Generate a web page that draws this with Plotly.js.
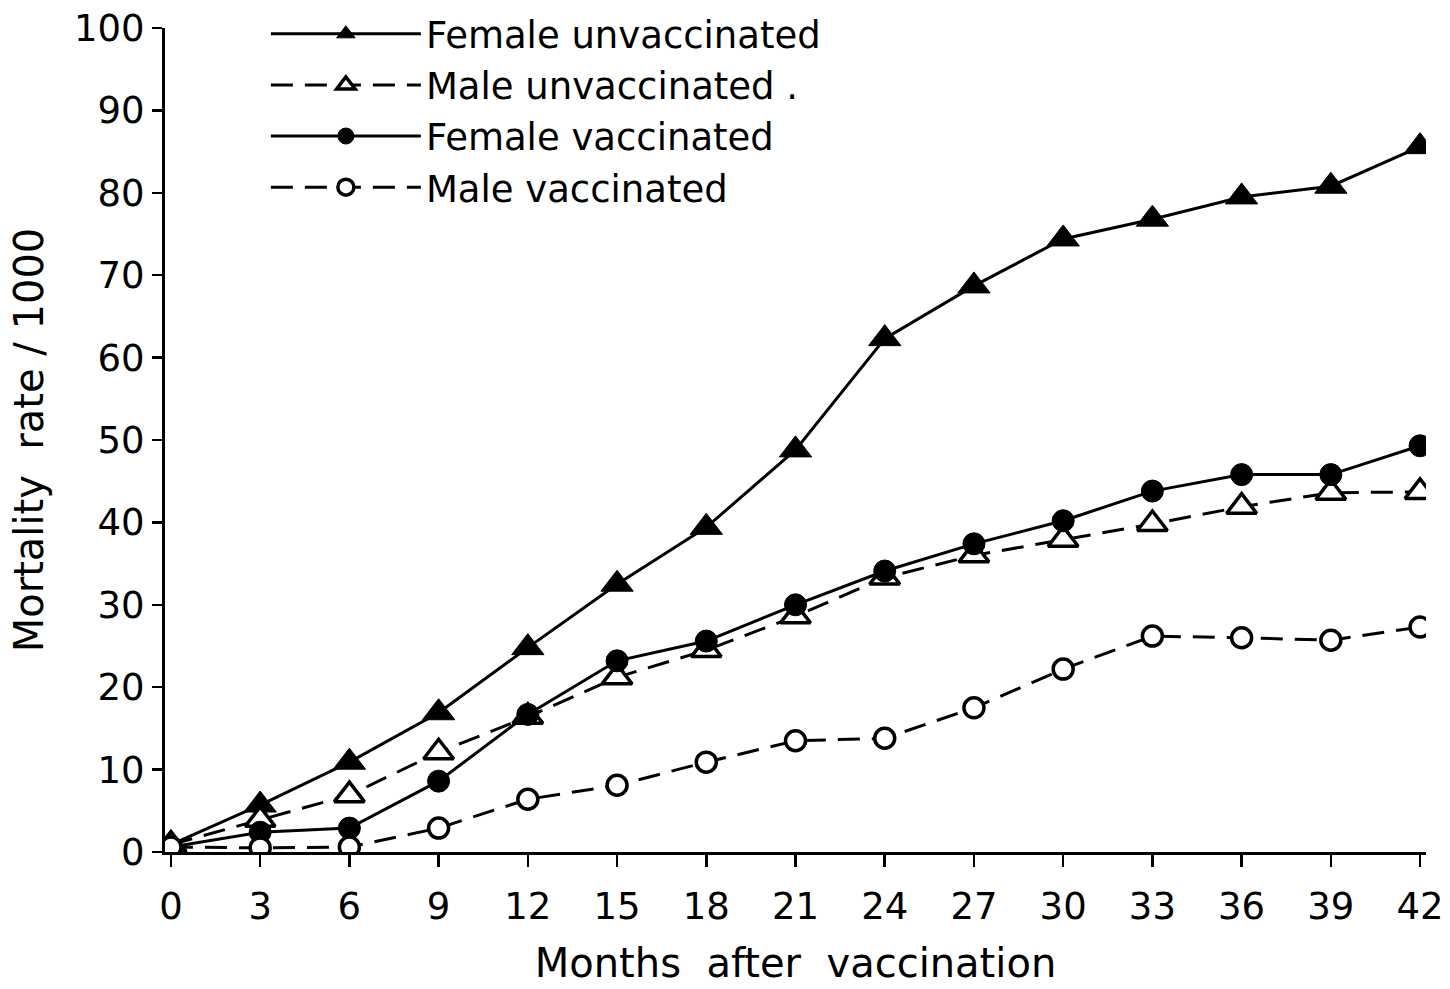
<!DOCTYPE html>
<html>
<head>
<meta charset="utf-8">
<script src="https://cdn.plot.ly/plotly-3.0.1.min.js"></script>
<style>html,body{margin:0;padding:0;background:#fff;}#chart{width:1450px;height:989px;}</style>
</head>
<body>
<div id="chart"></div>
<script>
const months = [0, 3, 6, 9, 12, 15, 18, 21, 24, 27, 30, 33, 36, 39, 42];
const tickLabels = ["0", "3", "6", "9", "12", "15", "18", "21", "24", "27", "30", "33", "36", "39", "42"];
const yTickVals = [0, 10, 20, 30, 40, 50, 60, 70, 80, 90, 100];
const yTickLabels = ["0", "10", "20", "30", "40", "50", "60", "70", "80", "90", "100"];
const femaleUnvaccinated = [0.9, 5.7, 10.9, 16.9, 24.8, 32.5, 39.4, 48.8, 62.3, 68.7, 74.4, 76.8, 79.5, 80.8, 85.6];
const maleUnvaccinated   = [0.9, 3.9, 6.9, 12.1, 16.4, 21.2, 24.5, 28.6, 33.3, 36.0, 37.9, 39.8, 41.9, 43.6, 43.7];
const femaleVaccinated   = [0.6, 2.4, 2.9, 8.6, 16.7, 23.2, 25.6, 30.0, 34.1, 37.4, 40.2, 43.8, 45.8, 45.8, 49.3];
const maleVaccinated     = [0.6, 0.5, 0.6, 2.9, 6.4, 8.1, 10.9, 13.5, 13.8, 17.5, 22.2, 26.2, 26.0, 25.7, 27.3];
const seriesNames = ["Female unvaccinated", "Male unvaccinated .", "Female vaccinated", "Male vaccinated"];

const fontFam = "DejaVu Sans, Noto Sans, sans-serif";
const traces = [
  {x: months, y: femaleUnvaccinated, name: seriesNames[0], mode: "lines+markers",
   line: {color: "#000", width: 3, dash: "solid"},
   marker: {symbol: "triangle-up", size: 28, color: "#000", line: {color: "#000", width: 1}}},
  {x: months, y: maleUnvaccinated, name: seriesNames[1], mode: "lines+markers",
   line: {color: "#000", width: 3, dash: "22px,12px"},
   marker: {symbol: "triangle-up", size: 26, color: "#fff", line: {color: "#000", width: 3.5}}},
  {x: months, y: femaleVaccinated, name: seriesNames[2], mode: "lines+markers",
   line: {color: "#000", width: 3, dash: "solid"},
   marker: {symbol: "circle", size: 22, color: "#000", line: {color: "#000", width: 1}}},
  {x: months, y: maleVaccinated, name: seriesNames[3], mode: "lines+markers",
   line: {color: "#000", width: 3, dash: "22px,12px"},
   marker: {symbol: "circle", size: 20, color: "#fff", line: {color: "#000", width: 3.5}}}
];

const layout = {
  width: 1450, height: 989,
  paper_bgcolor: "#fff", plot_bgcolor: "#fff",
  margin: {l: 165, r: 24, t: 28, b: 137, autoexpand: false},
  font: {family: fontFam, color: "#000", size: 36},
  showlegend: true,
  legend: {
    x: 0.08, y: 1.03, xanchor: "left", yanchor: "top",
    bgcolor: "rgba(0,0,0,0)", borderwidth: 0,
    font: {family: fontFam, size: 37, color: "#000"},
    itemwidth: 150, tracegroupgap: 0
  },
  xaxis: {
    range: [-0.2, 42.2],
    tickmode: "array", tickvals: months, ticktext: tickLabels,
    showgrid: false, zeroline: false,
    showline: true, linecolor: "#000", linewidth: 3,
    ticks: "outside", ticklen: 12, tickwidth: 2.5, tickcolor: "#000",
    ticklabelstandoff: 8, automargin: false,
    tickfont: {family: fontFam, size: 37, color: "#000"},
    title: {text: "Months  after  vaccination", font: {family: fontFam, size: 40, color: "#000"}, standoff: 22}
  },
  yaxis: {
    range: [0, 100],
    tickmode: "array", tickvals: yTickVals, ticktext: yTickLabels,
    showgrid: false, zeroline: false,
    showline: true, linecolor: "#000", linewidth: 3,
    ticks: "outside", ticklen: 10, tickwidth: 2.5, tickcolor: "#000",
    automargin: false,
    tickfont: {family: fontFam, size: 37, color: "#000"},
    title: {text: "Mortality  rate / 1000", font: {family: fontFam, size: 40, color: "#000"}, standoff: 18}
  }
};

Plotly.newPlot("chart", traces, layout, {displayModeBar: false, staticPlot: true});
</script>
</body>
</html>
